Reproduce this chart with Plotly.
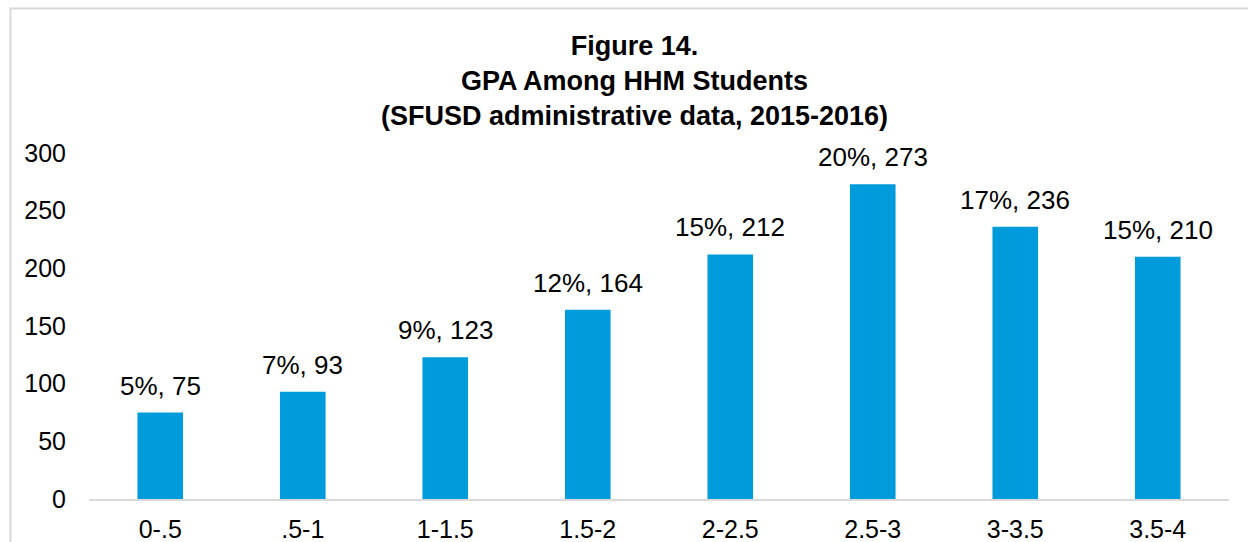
import plotly.graph_objects as go

# GPA bands and counts
gpa_bands = ["0-.5", ".5-1", "1-1.5", "1.5-2", "2-2.5", "2.5-3", "3-3.5", "3.5-4"]
student_counts = [75, 93, 123, 164, 212, 273, 236, 210]
pct_labels = ["5%", "7%", "9%", "12%", "15%", "20%", "17%", "15%"]

W, H = 1248, 542
ML, MR, MT, MB = 89, 19, 153, 43

fig = go.Figure(go.Bar(
    x=gpa_bands,
    y=student_counts,
    marker=dict(color="#009BDB", line=dict(width=0)),
    hoverinfo="x+y",
))

# data labels "pct, count" above each bar
for band, n, p in zip(gpa_bands, student_counts, pct_labels):
    fig.add_annotation(
        x=band, y=n, text=f"{p}, {n}",
        showarrow=False, yanchor="bottom", yshift=10,
        font=dict(size=26, color="#000000"),
    )

# light grey chart-area border (top and left edges visible in the crop)
pw, ph = W - ML - MR, H - MT - MB
def px_x(px):
    return (px - ML) / pw
def px_y(py):
    return (H - MB - py) / ph

fig.add_shape(type="line", xref="paper", yref="paper",
              x0=px_x(10), x1=px_x(1260), y0=px_y(8.5), y1=px_y(8.5),
              line=dict(color="#D9D9D9", width=2))
fig.add_shape(type="line", xref="paper", yref="paper",
              x0=px_x(10.5), x1=px_x(10.5), y0=px_y(8), y1=px_y(560),
              line=dict(color="#D9D9D9", width=2))

fig.update_layout(
    width=W, height=H,
    margin=dict(l=ML, r=MR, t=MT, b=MB),
    paper_bgcolor="white",
    plot_bgcolor="white",
    font=dict(family="Liberation Sans, Arial, sans-serif", size=25, color="#000000"),
    title=dict(
        text="<b>Figure 14.</b><br><b>GPA Among HHM Students</b><br><b>(SFUSD administrative data, 2015-2016)</b>",
        x=634.5 / W, xanchor="center",
        y=1 - 55 / H, yanchor="top", yref="container",
        font=dict(size=27, color="#000000"),
        automargin=False,
    ),
    bargap=0.68,
    showlegend=False,
    xaxis=dict(
        showline=True, linecolor="#D9D9D9", linewidth=1.5,
        showgrid=False, ticks="", ticklabelstandoff=7,
        tickfont=dict(size=25), automargin=False,
    ),
    yaxis=dict(
        range=[0, 300], dtick=50, showgrid=False, zeroline=False,
        showline=False, ticks="", ticklabelstandoff=22,
        tickfont=dict(size=25), automargin=False,
    ),
)

# drop the default 8px body margin so the figure fills the window exactly
fig.write_html("out.html", config={"displayModeBar": False},
               post_script="document.body.style.margin='0';")
